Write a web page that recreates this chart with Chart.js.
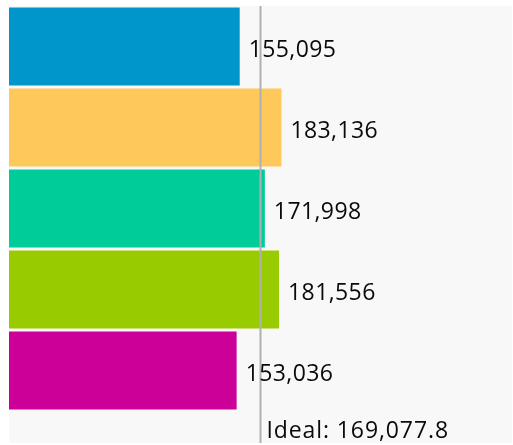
<!DOCTYPE html>
<html>
<head>
<meta charset="utf-8">
<script src="https://cdn.jsdelivr.net/npm/chart.js@4.4.1/dist/chart.umd.min.js"></script>
<style>
  html, body { margin:0; padding:0; background:#fff; }
  #wrap { width:513px; height:445px; }
</style>
</head>
<body>
<div id="wrap"><canvas id="chart" width="513" height="445"></canvas></div>
<script>
// DATA
const categories = ["1", "2", "3", "4", "5"];
const values = [155095, 183136, 171998, 181556, 153036];
const barColors = ["#0096cc", "#ffc85a", "#00cc99", "#99cc00", "#cc0099"];
const ideal = [169077.8];
const axisMax = [338155.6];

const fmt = v => v.toLocaleString("en-US");

// PLUGIN: background, value labels, ideal line
const extras = {
  id: "extras",
  beforeDraw(c){
    let a = c.chartArea, ctx = c.ctx;
    ctx.save();
    ctx.fillStyle = "#f8f8f8";
    ctx.fillRect(a.left, a.top, a.right - a.left, 443 - a.top);
    ctx.restore();
  },
  afterDatasetsDraw(c){
    let ctx = c.ctx, a = c.chartArea;
    let x = c.scales.x.getPixelForValue(ideal[0]);

    ctx.save();
    ctx.strokeStyle = "#b0b0b0";
    ctx.lineWidth = 2;
    ctx.beginPath();
    ctx.moveTo(x, a.top);
    ctx.lineTo(x, 443);
    ctx.stroke();

    ctx.font = "500 23px 'Open Sans'";
    ctx.fillStyle = "#0a0a0a";
    ctx.textBaseline = "alphabetic";
    ctx.textAlign = "left";
    ctx.letterSpacing = "0.4px";
    c.getDatasetMeta(0).data.forEach((bar, i) => {
      ctx.fillText(fmt(values[i]), bar.x + 9, bar.y + 10);
    });

    ctx.letterSpacing = "0.9px";
    ctx.fillText("Ideal: " + fmt(ideal[0]), x + 6, 438);
    ctx.restore();
  }
};

new Chart(document.getElementById("chart"), {
  type: "bar",
  data: {
    labels: categories,
    datasets: [{
      data: values,
      backgroundColor: barColors,
      borderWidth: 0,
      barPercentage: 0.96,
      categoryPercentage: 1
    }]
  },
  options: {
    indexAxis: "y",
    responsive: false,
    animation: false,
    layout: { padding: { left: 9, top: 6, right: 1, bottom: 34 } },
    scales: {
      x: { display: false, min: 0, max: axisMax[0] },
      y: { display: false }
    },
    plugins: { legend: { display: false }, tooltip: { enabled: false } }
  },
  plugins: [extras]
});
</script>
</body>
</html>
